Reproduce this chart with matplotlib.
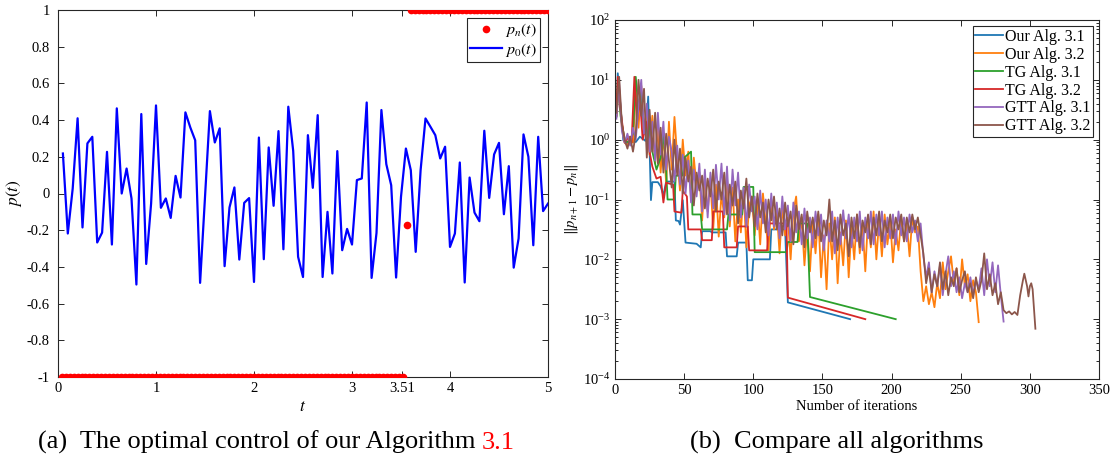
import numpy as np
import matplotlib
matplotlib.use("Agg")
import matplotlib.pyplot as plt

plt.rcParams["font.family"] = ["Liberation Serif", "DejaVu Serif"]
plt.rcParams["mathtext.fontset"] = "stix"
plt.rcParams["axes.unicode_minus"] = False

# ---- left panel data: initial control p0 and optimal control pn ----
t0 = [0.05 * k for k in range(1, 101)]
p0 = [0.218, -0.218, 0.027, 0.41, -0.185, 0.273, 0.309, -0.267, -0.213, 0.227,
      -0.278, 0.464, 0.0, 0.136, -0.027, -0.496, 0.433, -0.384, -0.055, 0.48,
      -0.078, -0.027, -0.133, 0.096, -0.022, 0.442, 0.36, 0.29, -0.487, -0.02,
      0.449, 0.278, 0.355, -0.396, -0.076, 0.033, -0.36, -0.051, -0.025, -0.482,
      0.305, -0.358, 0.251, -0.067, 0.34, -0.304, 0.473, 0.232, -0.345, -0.455,
      0.318, 0.031, 0.427, -0.455, -0.1, -0.436, 0.231, -0.309, -0.193, -0.278,
      0.073, 0.082, 0.496, -0.46, -0.215, 0.455, 0.16, 0.045, -0.458, -0.018,
      0.245, 0.127, -0.318, 0.127, 0.409, 0.364, 0.318, 0.191, 0.255, -0.291,
      -0.218, 0.169, -0.485, 0.087, -0.104, -0.151, 0.342, -0.024, 0.213, 0.276,
      -0.113, 0.149, -0.404, -0.245, 0.322, 0.2, -0.282, 0.309, -0.096, -0.055]

tn = [0.04 * k for k in range(1, 126)]
pn = [-1.0] * 88 + [-0.17] + [1.0] * 36

# ---- right panel data: log10 of ||p_{n+1} - p_n|| ----
our31_it = [1, 2, 6, 9, 12, 15, 18, 22, 24, 26, 27, 31, 33, 35, 37, 43, 44, 46, 47, 49,
            51, 59, 62, 63, 69, 70, 80, 81, 88, 89, 95, 96, 99, 100, 112, 113, 123, 125, 170]
our31_lg = [0.38, 1.11, -0.01, -0.06, 0.02, -0.04, 0.05, -0.02, 0.72, -1.01, -0.71, -0.71,
            -0.78, -0.93, -0.70, -0.70, -1.35, -1.36, -1.42, -1.01, -1.72, -1.74, -1.80,
            -1.53, -1.53, -1.55, -1.55, -1.95, -1.95, -1.72, -1.72, -2.35, -2.35, -2.0,
            -2.0, -1.50, -1.50, -2.72, -3.0]

tg32_it = [1, 2, 4, 7, 10, 12, 14, 16, 18, 20, 23, 25, 27, 30, 33, 35, 37, 42, 43, 48,
           49, 52, 53, 62, 63, 70, 71, 78, 79, 88, 89, 96, 97, 110, 111, 124, 125, 181]
tg32_lg = [0.40, 1.05, 0.5, -0.05, 0.05, -0.05, 1.05, 0.3, 0.7, 0.0, 0.3, -0.2, -0.45,
           -0.65, -0.62, -1.05, -0.72, -0.75, -1.2, -1.22, -0.85, -0.95, -1.5, -1.5,
           -1.68, -1.68, -1.2, -1.2, -1.8, -1.8, -1.45, -1.45, -1.85, -1.85, -1.40, -1.40,
           -2.64, -3.0]

tg31_it = [1, 2, 4, 7, 10, 13, 15, 17, 19, 21, 24, 27, 30, 33, 35, 37, 38, 43, 44, 49,
           50, 55, 56, 62, 63, 81, 82, 92, 93, 100, 101, 124, 125, 132, 133, 139, 141, 203]
tg31_lg = [0.4, 1.0, 0.4, 0.0, -0.05, 0.1, 1.05, 0.5, 0.8, 0.1, 0.3, -0.2, -0.5, -0.3,
           0.1, -0.5, -1.0, -1.0, -0.6, -0.6, -0.3, -0.2, -1.25, -1.25, -1.5, -1.5,
           -1.25, -1.25, -0.79, -0.79, -1.88, -1.88, -1.71, -1.71, -1.40, -1.40, -2.63, -3.0]

our32_it = list(range(1, 264, 2))
our32_lg = [0.40, 0.85, 0.20, -0.05, -0.10, 0.05, -0.05, 0.80, 0.20, 0.90,
            0.10, 0.50, -0.25, 0.40, -0.40, 0.20, -0.55, 0.10, -0.75, 0.30,
            -0.50, 0.38, -0.30, -0.85, 0.00, -0.60, -0.20, -1.00, -0.30, -0.80,
            -0.55, -1.35, -0.60, -1.20, -0.70, -1.50, -0.75, -1.62, -0.90, -1.30,
            -0.65, -1.45, -0.80, -1.70, -1.00, -1.55, -0.85, -1.80, -1.10, -0.95,
            -1.60, -1.05, -1.75, -0.90, -1.40, -1.85, -1.00, -1.50, -1.20, -1.90,
            -1.10, -1.60, -1.30, -2.00, -1.20, -0.95, -1.70, -1.30, -2.10, -1.45,
            -2.20, -1.35, -1.90, -1.25, -2.30, -1.60, -2.50, -1.40, -2.00, -1.30,
            -2.40, -1.55, -2.10, -1.35, -2.30, -1.45, -2.00, -1.25, -1.90, -1.40,
            -2.20, -1.30, -1.80, -1.20, -2.00, -1.35, -1.95, -1.25, -1.75, -1.35,
            -2.05, -1.50, -1.85, -1.30, -1.70, -1.40, -1.95, -1.30, -1.55, -1.45,
            -2.20, -2.70, -2.45, -2.75, -2.55, -2.80, -2.40, -2.65, -2.05, -2.50,
            -2.20, -1.95, -2.40, -2.15, -2.60, -2.00, -2.45, -2.25, -2.70, -2.35,
            -2.55, -3.05]

gtt31_it = list(range(1, 282, 2))
gtt31_lg = [0.35, 0.95, 0.15, -0.05, 0.10, -0.10, 0.20, 0.00, 0.55, 1.00,
            0.10, 0.60, -0.20, 0.30, -0.35, 0.45, -0.25, 0.30, -0.50, 0.05,
            -0.20, -0.70, -0.10, -0.75, -0.25, -0.90, -0.35, -1.05, -0.50, -0.95,
            -0.40, -1.20, -0.50, -1.30, -0.55, -1.15, -0.42, -1.00, -0.40, -1.25,
            -0.45, -1.35, -0.50, -1.10, -0.55, -1.30, -0.80, -1.45, -0.75, -1.20,
            -0.95, -1.50, -0.85, -1.40, -1.00, -1.60, -0.90, -1.45, -1.05, -1.65,
            -0.95, -1.50, -1.10, -1.70, -1.05, -1.55, -1.20, -1.75, -1.15, -1.65,
            -1.30, -1.80, -1.20, -1.60, -1.25, -1.85, -1.35, -1.70, -1.20, -1.90,
            -1.30, -1.75, -1.18, -1.65, -1.25, -1.80, -1.30, -1.70, -1.20, -1.85,
            -1.30, -1.65, -1.20, -1.75, -1.25, -1.60, -1.20, -1.80, -1.30, -1.65,
            -1.25, -1.75, -1.20, -1.60, -1.30, -1.70, -1.25, -1.55, -1.35, -1.70,
            -1.40, -1.95, -2.30, -2.05, -2.55, -2.20, -2.45, -2.10, -2.60, -2.25,
            -1.95, -2.45, -2.20, -2.55, -2.30, -2.65, -2.40, -2.55, -2.30, -2.60,
            -2.35, -2.50, -2.15, -2.60, -2.00, -2.45, -2.05, -2.55, -2.10, -2.60,
            -3.04]

gtt32_it = list(range(1, 280, 2)) + [281, 283, 285, 287, 289, 291, 293, 295, 296, 298,
                                     299, 300, 301, 302, 304]
gtt32_lg = [0.45, 1.05, 0.25, 0.00, -0.15, 0.05, -0.20, 0.10, 1.00, 0.40,
            0.85, -0.30, 0.50, -0.20, 0.45, -0.40, 0.20, -0.55, 0.10, -0.35,
            -0.80, 0.00, -0.60, -0.15, -0.90, -0.30, -0.70, -0.45, -1.10, -0.55,
            -0.85, -0.60, -1.15, -0.65, -0.95, -0.50, -1.20, -0.70, -1.00, -0.55,
            -1.25, -0.75, -1.10, -0.70, -1.40, -0.85, -1.15, -0.65, -1.30, -0.95,
            -1.45, -0.90, -1.30, -1.05, -1.55, -1.00, -1.35, -0.95, -1.50, -1.15,
            -1.60, -1.05, -1.45, -1.20, -1.75, -1.10, -1.50, -1.25, -1.80, -1.20,
            -1.55, -1.30, -1.65, -1.20, -1.70, -1.35, -1.60, -1.00, -1.70, -1.35,
            -1.85, -1.25, -1.60, -1.40, -1.95, -1.30, -1.65, -1.25, -1.80, -1.35,
            -1.55, -1.25, -1.75, -1.30, -1.60, -1.20, -1.70, -1.35, -1.55, -1.25,
            -1.65, -1.30, -1.50, -1.25, -1.70, -1.30, -1.55, -1.25, -1.50, -1.30,
            -1.60, -1.90, -2.40, -2.15, -2.55, -2.25, -2.45, -2.05, -2.50, -2.20,
            -2.60, -2.30, -2.45, -2.15, -2.55, -2.35, -2.20, -2.55, -2.40, -2.65,
            -2.30, -2.55, -2.35, -1.90, -2.50, -2.25, -2.60, -2.40, -2.75, -2.55,
            -2.85, -2.90, -2.87, -2.92, -2.88, -2.93, -2.60, -2.35, -2.24, -2.45,
            -2.62, -2.45, -2.40, -2.50, -3.16]

series = [
    ("Our Alg. 3.1", our31_it, our31_lg, "#1f77b4"),
    ("Our Alg. 3.2", our32_it, our32_lg, "#ff7f0e"),
    ("TG Alg. 3.1", tg31_it, tg31_lg, "#2ca02c"),
    ("TG Alg. 3.2", tg32_it, tg32_lg, "#d62728"),
    ("GTT Alg. 3.1", gtt31_it, gtt31_lg, "#9467bd"),
    ("GTT Alg. 3.2", gtt32_it, gtt32_lg, "#8c564b"),
]

W, H = 1112, 463
fig = plt.figure(figsize=(W / 100, H / 100), dpi=100)
edge = (0.15, 0.15, 0.15)

# ---------------- left panel ----------------
ax1 = fig.add_axes([58 / W, 1 - 377 / H, 490 / W, 367 / H])
ax1.plot(tn, pn, "o", color="red", ms=5.5, mec="none", label="$p_n(t)$", zorder=3)
ax1.plot(t0, p0, "-", color="blue", lw=1.6, label="$p_0(t)$")
ax1.set_xlim(0, 5)
ax1.set_ylim(-1, 1)
ax1.set_xticks([0, 1, 2, 3, 3.51, 4, 5])
ax1.set_xticklabels(["0", "1", "2", "3", "3.51", "4", "5"])
yt = np.round(np.arange(-1, 1.01, 0.2), 1) + 0.0
ax1.set_yticks(yt)
ax1.set_yticklabels(["%g" % v if abs(v) > 1e-9 else "0" for v in yt])
ax1.set_xlabel("$t$", fontsize=12.5, labelpad=3)
ax1.set_ylabel("$p(t)$", fontsize=12.5, labelpad=2)
leg1 = ax1.legend(loc="upper right", fontsize=11.5, frameon=True, fancybox=False,
                  framealpha=1, edgecolor=edge, borderaxespad=0.5, handlelength=2.0,
                  handletextpad=0.2, borderpad=0.2, labelspacing=0.1)
leg1.get_frame().set_linewidth(0.8)

# ---------------- right panel ----------------
ax2 = fig.add_axes([615 / W, 1 - 379 / H, 484 / W, 359 / H])
for name, it, lg, col in series:
    ax2.semilogy(it, 10.0 ** np.array(lg), color=col, lw=1.3, label=name)
ax2.set_xlim(0, 350)
ax2.set_ylim(1e-4, 1e2)
ax2.set_xticks(range(0, 351, 50))
ax2.set_xlabel("Number of iterations", fontsize=10.5, labelpad=2)
ax2.set_ylabel(r"$\|p_{n+1}-p_n\|$", fontsize=10.5, labelpad=2)
leg2 = ax2.legend(loc="upper right", fontsize=11.5, frameon=True, fancybox=False,
                  framealpha=1, edgecolor=edge, borderaxespad=0.4, handlelength=1.75,
                  handletextpad=0.1, borderpad=0.15, labelspacing=0.12)
leg2.get_frame().set_linewidth(0.8)

for ax in (ax1, ax2):
    ax.tick_params(which="both", direction="in", top=True, right=True, colors=edge,
                   labelcolor="black", labelsize=10.5, width=0.7)
    ax.tick_params(which="major", length=4)
    ax.tick_params(which="minor", length=2)
    for s in ax.spines.values():
        s.set_color(edge)
        s.set_linewidth(0.8)
ax1.tick_params(axis="y", pad=6)

# ---------------- captions ----------------
base = 1 - 449 / H
cap = fig.text(38 / W, base, "(a)  The optimal control of our Algorithm ",
               fontsize=19, ha="left", va="baseline")
fig.canvas.draw()
bb = cap.get_window_extent()
fig.text(bb.x1 / W, base, "3.1", fontsize=19, color="red", ha="left", va="baseline")
fig.text(690 / W, base, "(b)  Compare all algorithms", fontsize=19,
         ha="left", va="baseline")

fig.savefig("out.png", dpi=100)
